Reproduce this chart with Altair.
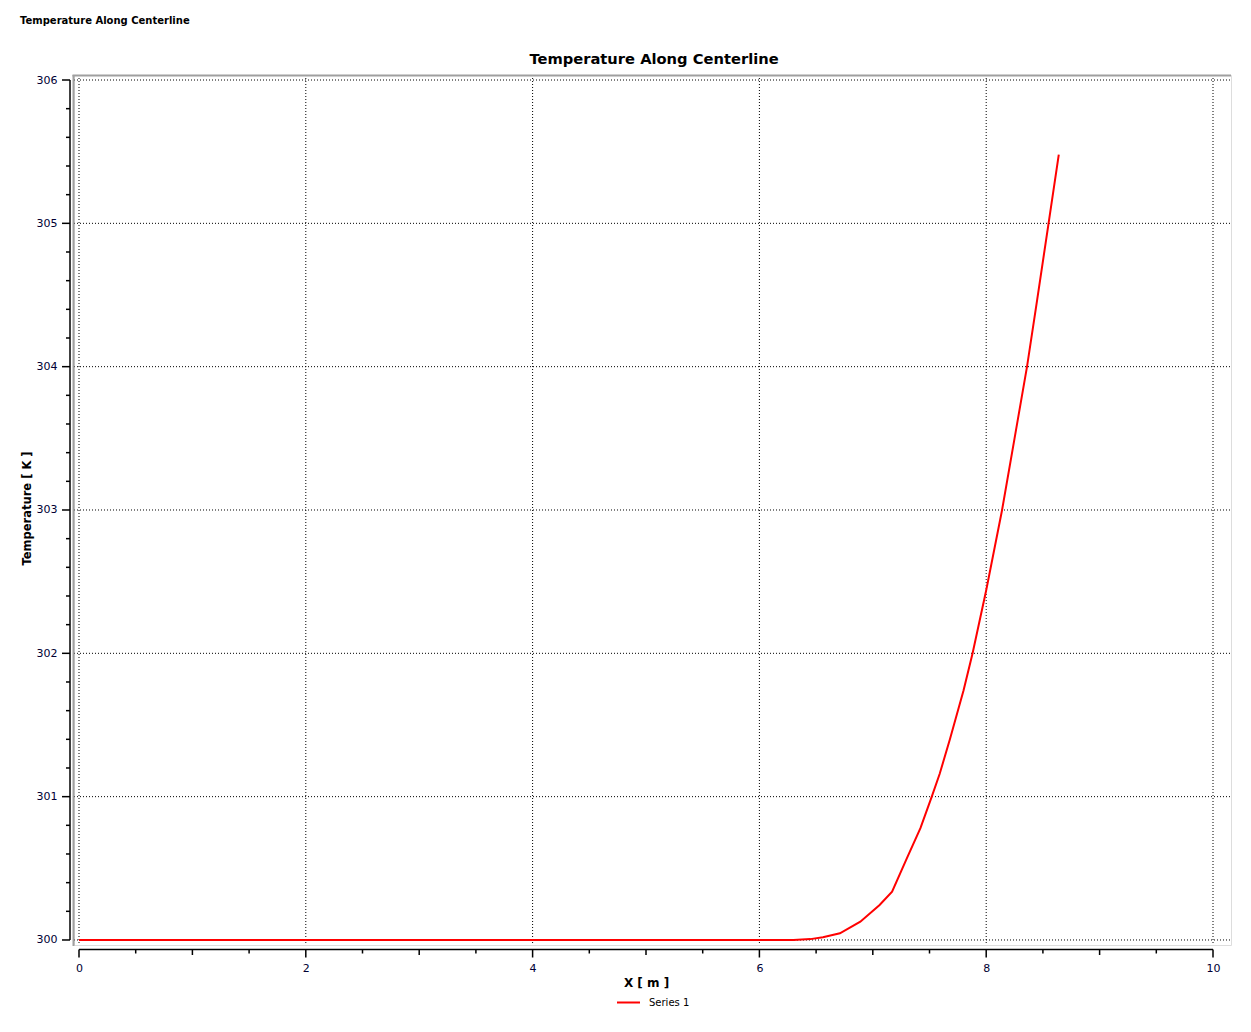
import altair as alt
import pandas as pd

# ---- data ----
x_m = [0.0, 6.30, 6.45, 6.56, 6.71, 6.89, 7.06, 7.17, 7.30, 7.42, 7.52, 7.59,
       7.68, 7.80, 7.88, 8.00, 8.14, 8.25, 8.36, 8.45, 8.55, 8.64]
temp_k = [300.0, 300.0, 300.006, 300.019, 300.047, 300.128, 300.244, 300.337,
          300.57, 300.78, 301.0, 301.16, 301.40, 301.74, 302.0, 302.44, 303.0,
          303.5, 304.0, 304.47, 305.0, 305.48]
series_name = ["Series 1"] * len(x_m)

x_major = [0, 2, 4, 6, 8, 10]
x_mid = [1, 3, 5, 7, 9]
x_half = [0.5, 1.5, 2.5, 3.5, 4.5, 5.5, 6.5, 7.5, 8.5, 9.5]
y_major = [300, 301, 302, 303, 304, 305, 306]
y_minor = [round(300 + 0.2 * i, 1) for i in range(31) if i % 5 != 0]

W, H = 1157, 870
X_DOM = [-0.0441, 10.1587]
Y_DOM = [299.965, 306.0349]
FONT = "DejaVu Sans"
LABEL_COLOR = "#000033"

xs = alt.Scale(domain=X_DOM, nice=False, zero=False)
ys = alt.Scale(domain=Y_DOM, nice=False, zero=False)

line_df = pd.DataFrame({"x": x_m, "t": temp_k, "series": series_name})
base = alt.Chart(line_df)

x_axis = alt.Axis(values=x_major, grid=False, ticks=False, domain=False,
                  labelPadding=17, labelFontSize=11, labelFont=FONT, labelColor=LABEL_COLOR,
                  labelFlush=False,
                  titleFont=FONT, titleFontSize=12, titleFontWeight="bold", titleColor="black",
                  titleX=572, titleY=37, titleBaseline="middle", titleAlign="center")
y_axis = alt.Axis(values=y_major, grid=False, ticks=False, domain=False,
                  labelPadding=17, labelFontSize=11, labelFont=FONT, labelColor=LABEL_COLOR,
                  labelFlush=False,
                  titleFont=FONT, titleFontSize=11.5, titleFontWeight="bold", titleColor="black",
                  titleX=-47, titleY=433, titleBaseline="middle", titleAlign="center",
                  titleAngle=270)

# grid lines (dotted)
vgrid = alt.Chart(pd.DataFrame({"x": x_major})).mark_rule(
    color="black", strokeDash=[1, 2], strokeWidth=1
).encode(x=alt.X("x:Q", scale=xs, axis=None), y=alt.value(0), y2=alt.value(H))

hgrid = alt.Chart(pd.DataFrame({"t": y_major})).mark_rule(
    color="black", strokeDash=[1, 2], strokeWidth=1
).encode(y=alt.Y("t:Q", scale=ys, axis=None), x=alt.value(0), x2=alt.value(W))

# grey frame (top and left)
frame_top = alt.Chart(pd.DataFrame({"a": [0]})).mark_rule(
    color="#a0a0a0", strokeWidth=2
).encode(x=alt.value(-1.5), x2=alt.value(W), y=alt.value(0.5))
frame_left = alt.Chart(pd.DataFrame({"a": [0]})).mark_rule(
    color="#a0a0a0", strokeWidth=2
).encode(x=alt.value(-0.5), y=alt.value(0), y2=alt.value(H + 1))

# axis lines
xaxis_line = alt.Chart(pd.DataFrame({"x": [x_major[0]], "x2": [x_major[-1]]})).mark_rule(
    color="black", strokeWidth=1.5
).encode(x=alt.X("x:Q", scale=xs, axis=None), x2="x2:Q", y=alt.value(H + 4.5))
yaxis_line = alt.Chart(pd.DataFrame({"t": [y_major[0]], "t2": [y_major[-1]]})).mark_rule(
    color="black", strokeWidth=1.5
).encode(y=alt.Y("t:Q", scale=ys, axis=None), y2="t2:Q", x=alt.value(-4))


def xticks(vals, length):
    return alt.Chart(pd.DataFrame({"x": vals})).mark_rule(color="black", strokeWidth=1.5).encode(
        x=alt.X("x:Q", scale=xs, axis=None), y=alt.value(H + 4.5), y2=alt.value(H + 4.5 + length))


def yticks(vals, length):
    return alt.Chart(pd.DataFrame({"t": vals})).mark_rule(color="black", strokeWidth=1.5).encode(
        y=alt.Y("t:Q", scale=ys, axis=None), x=alt.value(-4), x2=alt.value(-4 - length))


curve = base.mark_line(strokeWidth=2).encode(
    x=alt.X("x:Q", scale=xs, title="X [ m ]", axis=x_axis),
    y=alt.Y("t:Q", scale=ys, title="Temperature [ K ]", axis=y_axis),
    color=alt.Color("series:N", scale=alt.Scale(range=["#ff0000"]), title=None,
                    legend=alt.Legend(orient="none", legendX=542, legendY=915, direction="horizontal",
                                      symbolType="stroke", symbolSize=529, symbolStrokeWidth=2,
                                      labelFont=FONT, labelFontSize=10, labelColor="black",
                                      labelOffset=8, padding=0, symbolOffset=0)),
)

header = alt.Chart(pd.DataFrame({"s": ["Temperature Along Centerline"]})).mark_text(
    font=FONT, fontSize=10, fontWeight="bold", align="left", baseline="middle", color="black"
).encode(text="s:N", x=alt.value(-54), y=alt.value(-54))

title = alt.Chart(pd.DataFrame({"s": ["Temperature Along Centerline"]})).mark_text(
    font=FONT, fontSize=14.7, fontWeight="bold", align="center", baseline="middle", color="black"
).encode(text="s:N", x=alt.value(580), y=alt.value(-15.5))

chart = alt.layer(
    vgrid, hgrid, frame_top, frame_left,
    xaxis_line, yaxis_line,
    xticks(x_major, 8), xticks(x_mid, 5.5), xticks(x_half, 4),
    yticks(y_major, 8), yticks(y_minor, 4),
    curve, header, title,
).resolve_axis(x="independent", y="independent").properties(
    width=W, height=H,
    autosize=alt.AutoSizeParams(type="none"),
    padding={"left": 66, "top": 67, "right": 12, "bottom": 80},
).configure_view(strokeWidth=0).configure(background="white")

chart.save("out.html", embed_options={"renderer": "svg", "actions": False})
